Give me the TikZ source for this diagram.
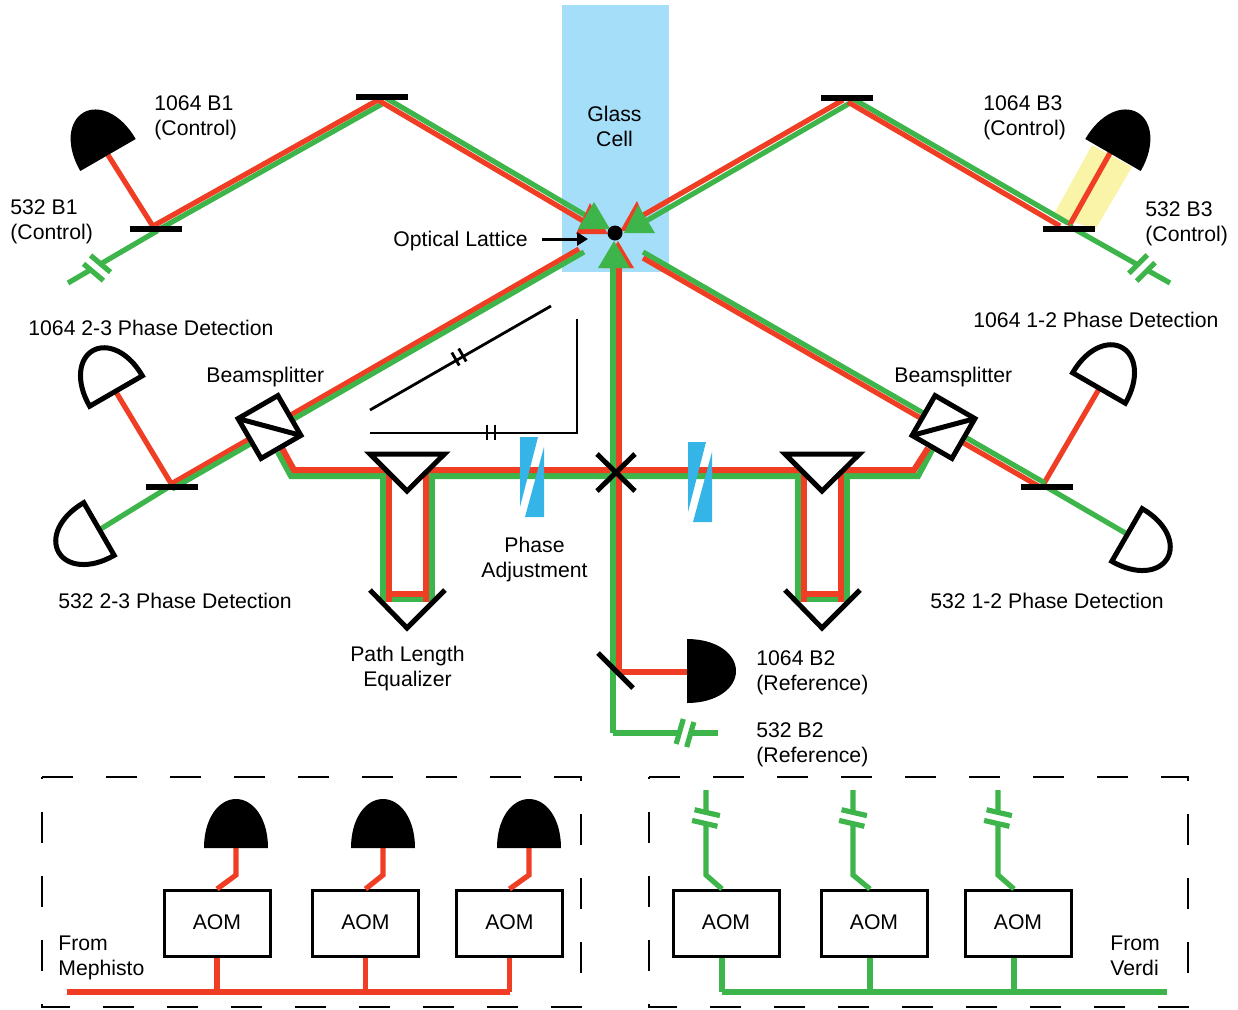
\documentclass[tikz,border=0pt]{standalone}
\usepackage{fontspec}
\setmainfont{Liberation Sans}
\usepackage{xcolor}
\usepackage{tikz}
\usetikzlibrary{arrows.meta}
\definecolor{beamred}{HTML}{EF3E23}
\definecolor{beamgreen}{HTML}{3DB54A}
\definecolor{cellblue}{HTML}{A5DEF9}
\definecolor{wedgeblue}{HTML}{35B4E8}
\definecolor{fanyellow}{HTML}{F9F4A8}

\begin{document}
\begin{tikzpicture}[x=0.5pt,y=-0.5pt,font=\fontsize{10.6}{12.5}\selectfont,
   rbeam/.style={draw=beamred,line width=3pt},
   gbeam/.style={draw=beamgreen,line width=3pt},
   rthin/.style={draw=beamred,line width=2.6pt},
   gthin/.style={draw=beamgreen,line width=2.6pt},
   optic/.style={draw=black,line width=2.5pt,fill=white},
   mirrorbar/.style={draw=black,line width=3pt},
   delayline/.style={draw=black,line width=1.4pt},
   dashbox/.style={draw=black,line width=1.4pt,dash pattern=on 15.5pt off 16.5pt},
   aom/.style={draw=black,line width=1.5pt,minimum width=53pt,minimum height=33pt,inner sep=0pt},
   lbl/.style={inner sep=0pt,align=left,anchor=west},
   clbl/.style={inner sep=0pt,align=center}]
\useasboundingbox (0,0) rectangle (1238,1009);
% detector: flat side at (#1,#2), dome turned by #3, #4 = look and size
\newcommand{\detector}[4]{\begin{scope}[shift={(#1,#2)},rotate=#3]
  \path[#4] (-32,0) .. controls (-32,-30) and (-17,-49) .. (0,-49) .. controls (17,-49) and (32,-30) .. (32,0) -- cycle;
\end{scope}}
% fibre break: gap and two plates
\newcommand{\fbreak}[3]{\begin{scope}[shift={(#1,#2)},rotate=#3]
  \fill[white] (-9,-4) rectangle (9,4);
  \draw[gthin] (-13,-5.5) -- (13,-5.5) (-13,5.5) -- (13,5.5);
\end{scope}}
% two ticks on a delay line
\newcommand{\ticks}[3]{\begin{scope}[shift={(#1,#2)},rotate=#3]
  \draw[draw=black,line width=1.4pt] (-4,-7.5) -- (-4,7.5) (4,-7.5) -- (4,7.5);
\end{scope}}
% beamsplitter cube, #3 = 1 or -1 mirrors it
\newcommand{\bsplit}[3]{\begin{scope}[shift={(#1,#2)},xscale=#3,rotate=30]
  \draw[optic] (-23,-23) rectangle (23,23);
  \draw[optic] (-23,-23) -- (23,23);
\end{scope}}
% delay loop: beams down and back, prism and retroreflector on top
\newcommand{\delayloop}[1]{\begin{scope}[shift={(#1,0)}]
  \draw[gbeam] (-24,476) -- (-24,599) -- (25,599) -- (25,476);
  \draw[rbeam] (-18,470) -- (-18,602) (-18,594) -- (19,594) (19,602) -- (19,470);
  \draw[optic] (-37,454) -- (37.5,454) -- (0,491) -- cycle;
  \draw[optic,fill=none] (-37,590) -- (0,628) -- (38,590);
\end{scope}}
% wedge pair
\newcommand{\wedgepair}[2]{\begin{scope}[shift={(#1,#2)}]
  \fill[wedgeblue] (0,0) -- (18,0) -- (0,70) -- cycle;
  \fill[wedgeblue] (24,10) -- (24,80) -- (5,80) -- cycle;
\end{scope}}

% glass cell
\fill[cellblue] (562,5) rectangle (669,272);
\fill[fanyellow] (1092,145) -- (1132,167) -- (1095,230) -- (1054,214) -- cycle;

% beam points
\coordinate (detAa) at (108,155); \coordinate (mirA) at (154,228); \coordinate (mirAg) at (157,231); \coordinate (fibA) at (68,283);
\coordinate (detCa) at (1110,153); \coordinate (mirC) at (1069,226); \coordinate (fibC) at (1170,283);
\coordinate (det23a) at (116,392); \coordinate (det23b) at (99,530); \coordinate (mir23) at (172,485);
\coordinate (det12a) at (1099,389); \coordinate (det12b) at (1127,534); \coordinate (mir12) at (1043,485);
\coordinate (detBa) at (687,672);  \coordinate (fibB) at (718,733);

% thin branches
\draw[rthin] (mirA) -- (detAa);
\draw[gthin] (mirAg) -- (fibA);
\draw[rthin] (mirC) -- (detCa);
\draw[gthin] (mirC) -- (fibC);
\draw[rthin] (mir23) -- (det23a);
\draw[gthin] (mir23) -- (det23b);
\draw[rthin] (mir12) -- (det12a);
\draw[gthin] (mir12) -- (det12b);
\draw[gbeam] (613,733) -- (fibB);
\draw[rthin] (619,672) -- (detBa);
% B1 and B3 arms
\draw[gthin] (156,231) -- (382,104);
\draw[rthin] (155,225) -- (378,100) -- (585,222);
\draw[gthin] (386,98) -- (585,215);
\draw[gthin] (850,103) -- (640,224.5);
\draw[rthin] (843,100) -- (640,217);
\draw[gthin] (850,97) -- (1068,223);
\draw[rthin] (848,102) -- (1060,226);
% arms to the beamsplitters
\draw[rthin] (579,249) -- (171,484);
\draw[gthin] (584,252) -- (172,489);
\draw[gthin] (643,252) -- (1045,483);
\draw[rthin] (643,258) -- (1040,487);
% bench lines, common path
\draw[gbeam] (278,452) -- (291,476) -- (918,476) -- (933,448);
\draw[rbeam] (282,448) -- (294,470) -- (914,470) -- (928,448);
\draw[gbeam] (613,268) -- (613,733);
\draw[rbeam] (619,268) -- (619,672);

\delayloop{407}
\delayloop{822}
\wedgepair{520}{437}
\wedgepair{688}{442}
\bsplit{269.5}{427}{1}
\bsplit{943.5}{427}{-1}

% mirrors
\foreach \mx/\my in {382/97,847/98,156/229,1069/229,172/487,1047/487}{
  \draw[mirrorbar] (\mx-26,\my) -- (\mx+26,\my);}
\draw[optic] (598,653) -- (633,688);
\draw[optic] (597,454) -- (635,491) (635,454) -- (597,491);

% fibre breaks
\fbreak{97}{268}{-40}
\fbreak{1142}{268}{45}
\fbreak{685}{733}{74}

% detectors
\detector{108}{155}{30}{fill=black}
\detector{1113}{155}{-30}{fill=black}
\detector{687}{671}{-90}{fill=black}
\detector{116}{391}{30}{optic,scale=0.95}
\detector{99}{529}{120}{optic,scale=0.95}
\detector{1099}{388}{-30}{optic,scale=0.95}
\detector{1127}{535}{-120}{optic,scale=0.95}

% focus at the lattice
\fill[beamred] (590,203) -- (576,234) -- (608,234) -- cycle;
\fill[beamgreen] (594,202) -- (578,229) -- (610,229) -- cycle;
\fill[beamred] (637,201) -- (620,231) -- (650,231) -- cycle;
\fill[beamgreen] (638,205) -- (624,233) -- (655,233) -- cycle;
\fill[beamred] (618,241) -- (602,268) -- (634,268) -- cycle;
\fill[beamgreen] (614,241) -- (598,268) -- (630,268) -- cycle;
\node[circle,fill=black,inner sep=0pt,minimum size=7.5pt] (lattice) at (615,233) {};

% delay line sketch
\coordinate (slantA) at (370,410); \coordinate (slantB) at (551,306);
\coordinate (flatA) at (370,433); \coordinate (flatB) at (577,433); \coordinate (flatC) at (577,319);
\draw[delayline] (slantA) -- (slantB);
\draw[delayline] (flatA) -- (flatB) -- (flatC);
\ticks{459}{357}{30}
\ticks{491}{432}{0}

% labels
\node[clbl] (cell) at (614.5,126) {Glass\\Cell};
\node[lbl] (latlab) at (393,241) {Optical Lattice};
\coordinate (arrowstart) at (542,239); \coordinate (arrowend) at (588,239);
\draw[line width=1.5pt,-{Triangle[length=5.5pt,width=6.5pt]}] (arrowstart) -- (arrowend);
\node[lbl] (lbA) at (154,117.5) {1064 B1\\(Control)};
\node[lbl] (lgA) at (10,221.5) {532 B1\\(Control)};
\node[lbl] (lbC) at (983,117.5) {1064 B3\\(Control)};
\node[lbl] (lgC) at (1145,223.5) {532 B3\\(Control)};
\node[lbl] (pd23r) at (28,328) {1064 2-3 Phase Detection};
\node[lbl] (pd12r) at (973,320) {1064 1-2 Phase Detection};
\node[lbl] (pd23g) at (58,601) {532 2-3 Phase Detection};
\node[lbl] (pd12g) at (930,601) {532 1-2 Phase Detection};
\node[lbl] (bsl) at (206,377) {Beamsplitter};
\node[lbl] (bsr) at (894,377) {Beamsplitter};
\node[clbl] (phase) at (534.5,559.5) {Phase\\Adjustment};
\node[clbl] (pathlen) at (407.5,668.5) {Path Length\\Equalizer};
\node[lbl] (lbB) at (756,672.5) {1064 B2\\(Reference)};
\node[lbl] (lgB) at (756,744.5) {532 B2\\(Reference)};
\node[lbl] (mephisto) at (58,957.5) {From\\Mephisto};
\node[lbl] (verdi) at (1110,955.5) {From\\Verdi};

% AOM boxes
\foreach \bx in {42,649}{
  \draw[dashbox] (\bx,777) -- (\bx+539,777) -- (\bx+539,1007) -- (\bx,1007) -- (\bx,777);}
\coordinate (busR) at (67,992); \coordinate (busG) at (1167,992);
\foreach \nm/\ax/\dx in {r1/217/236,r2/365.5/383,r3/509.5/529}{
  \node[aom] (aom\nm) at (\ax,923.5) {\raisebox{1pt}{AOM}};
  \coordinate (top\nm) at (\dx,848);
  \coordinate (bend\nm) at (\dx,875);
  \draw[rthin] (top\nm) -- (bend\nm) -- (aom\nm.north);
  \draw[rthin] (aom\nm.south) -- (aom\nm.south |- busR);
  \detector{\dx}{848}{0}{fill=black}
}
\coordinate (busRend) at (aomr3.south |- busR);
\draw[rthin] (busR) -- (busRend);
\foreach \nm/\ax/\dx in {g1/726/706,g2/874/853,g3/1018/998}{
  \node[aom] (aom\nm) at (\ax,923.5) {\raisebox{1pt}{AOM}};
  \coordinate (top\nm) at (\dx,790);
  \coordinate (bend\nm) at (\dx,875);
  \draw[gthin] (top\nm) -- (bend\nm) -- ([xshift=-2pt]aom\nm.north);
  \draw[gthin] ([xshift=-2pt]aom\nm.south) -- ([xshift=-2pt]aom\nm.south |- busG);
  \fbreak{\dx}{818}{-13}
}
\coordinate (busGstart) at ([xshift=-2pt]aomg1.south |- busG);
\draw[gthin] (busGstart) -- (busG);
\end{tikzpicture}
\end{document}
